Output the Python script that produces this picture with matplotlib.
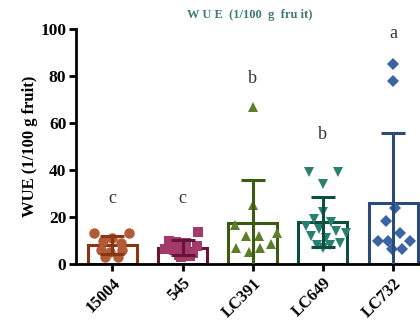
import numpy as np
import matplotlib
matplotlib.use("Agg")
import matplotlib.pyplot as plt

categories = ["15004", "545", "LC391", "LC649", "LC732"]

vals_15004 = [13, 13, 10, 11, 9, 6, 5, 6, 3, 3]
off_15004 = [-0.27, 0.24, -0.14, 0.0, 0.12, -0.17, -0.03, 0.14, -0.1, 0.08]

vals_545 = [13.7, 10, 9.5, 9, 7.5, 6.5, 6, 5, 4.5, 4, 3.5, 3]
off_545 = [0.22, -0.2, -0.1, 0.05, 0.2, -0.25, -0.12, 0.02, 0.15, -0.05, 0.1, -0.02]

vals_LC391 = [67, 25, 16.5, 13, 12, 12, 8.5, 7, 7, 5]
off_LC391 = [0.0, 0.0, -0.25, 0.35, -0.1, 0.09, 0.26, -0.24, 0.11, -0.05]

vals_LC649 = [39, 39, 34, 22, 19, 18, 16, 15, 14, 13, 12, 11, 9, 8, 8, 7]
off_LC649 = [-0.2, 0.21, 0.0, 0.0, -0.12, 0.12, -0.24, -0.06, 0.18, 0.33, -0.17, 0.05, 0.25, -0.08, 0.1, 0.0]

vals_LC732 = [85, 78, 24, 18.4, 10, 10, 13, 10, 6.4, 6.4]
off_LC732 = [0.0, 0.0, 0.03, -0.1, -0.21, -0.07, 0.1, 0.24, -0.01, 0.13]

groups = [vals_15004, vals_545, vals_LC391, vals_LC649, vals_LC732]
offsets = [off_15004, off_545, off_LC391, off_LC649, off_LC732]
letters = ["c", "c", "b", "b", "a"]
letter_y = [28, 28, 79, 55, 98]

edge_colors = ["#8a3612", "#6a1238", "#3c5a12", "#0f4d3c", "#2b4a78"]
point_colors = ["#b35a36", "#a23b6a", "#5b7e2a", "#2a8070", "#3b64a4"]
markers = ["o", "s", "^", "v", "D"]
msizes = [7.5, 7, 7, 7, 6]

serif = ["Liberation Serif", "DejaVu Serif"]

fig = plt.figure(figsize=(4.2, 3.2), dpi=100)
ax = fig.add_axes([0.181, 0.175, 0.83, 0.734])

x = np.arange(len(categories))
means = [np.mean(g) for g in groups]
sds = [np.std(g, ddof=1) for g in groups]

for i in range(len(categories)):
    ax.bar(x[i], means[i], width=0.7, facecolor="none", edgecolor=edge_colors[i],
           linewidth=2.2, zorder=2)
    xs = x[i] + np.array(offsets[i])
    ax.plot(xs, groups[i], linestyle="none", marker=markers[i], markersize=msizes[i],
            color=point_colors[i], markeredgewidth=0, zorder=3)
    ax.errorbar(x[i], means[i], yerr=sds[i], ecolor=edge_colors[i], elinewidth=2.2,
                capsize=8.5, capthick=2.2, fmt="none", zorder=4)
    ax.text(x[i], letter_y[i], letters[i], ha="center", va="center", fontsize=13,
            family=serif, color="#333333")

ax.set_xlim(-0.52, 4.45)
ax.set_ylim(0, 100)
ax.set_yticks([0, 20, 40, 60, 80, 100])
ax.set_xticks(x)
ax.set_xticklabels(categories, rotation=45, ha="right", rotation_mode="anchor")
for lab in ax.get_yticklabels():
    lab.set_family(serif)
    lab.set_fontweight("bold")
    lab.set_fontsize(12.5)
for lab in ax.get_xticklabels():
    lab.set_family(serif)
    lab.set_fontweight("bold")
    lab.set_fontsize(12)

for s in ["top", "right"]:
    ax.spines[s].set_visible(False)
for s in ["left", "bottom"]:
    ax.spines[s].set_linewidth(2)
    ax.spines[s].set_color("black")
ax.tick_params(axis="y", width=2, length=5, direction="out", pad=2)
ax.tick_params(axis="x", width=2, length=5, direction="out", pad=3)
ax.set_ylabel("WUE (1/100 g fruit)", family=serif, fontweight="bold", fontsize=12, labelpad=2)

fig.text(0.595, 0.953, "W U E  (1/100  g  fru it)", ha="center", va="center",
         family=serif, fontweight="bold", fontsize=9, color="#3d7b78")

fig.savefig("out.png", dpi=100)
